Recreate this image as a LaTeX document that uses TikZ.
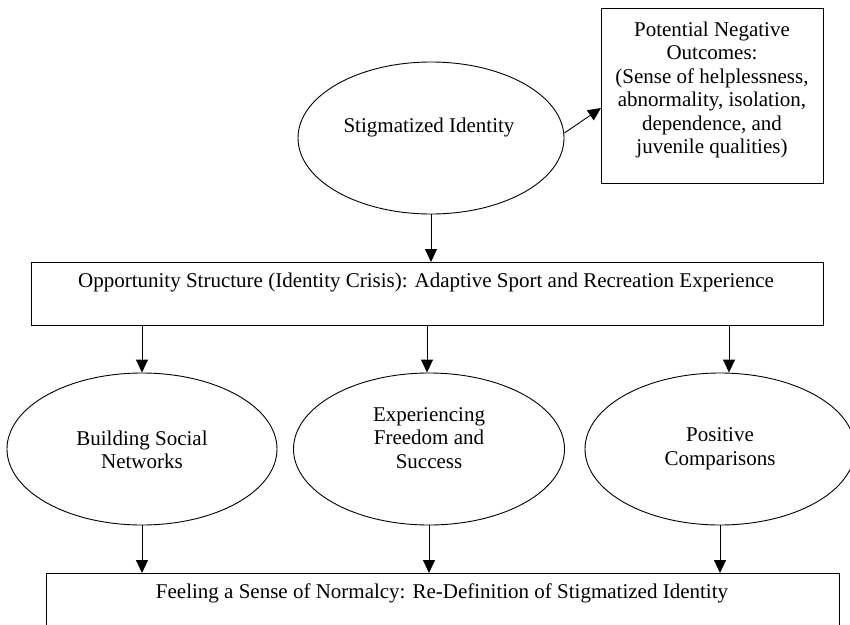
\documentclass[tikz,border=0pt]{standalone}
\usepackage{fontspec}
\setmainfont{Liberation Serif}
\usetikzlibrary{arrows.meta}
\usetikzlibrary{shapes.geometric}
\usetikzlibrary{positioning}
\usetikzlibrary{calc}
\tikzset{oval/.style = {draw, ellipse, inner sep = 0, line width = 0.9pt,
                        minimum width = 270, minimum height = 152}}
\tikzset{box/.style = {draw, rectangle, inner sep = 0, line width = 1pt,
                       anchor = north west}}
\tikzset{arr/.style = {line width = 0.9pt, -{Triangle[width=12pt, length=13pt]}}}
\tikzset{txt/.style = {align = center, inner sep = 0,
                       font = \fontsize{21}{23.5}\selectfont}}

\begin{document}
\begin{tikzpicture}[x=1pt, y=-1pt]
  \useasboundingbox (0, 0) rectangle (850, 624);
  \clip (0, 0) rectangle (850, 624);

  % top row
  \node [oval, minimum width = 266] (stigma) at (431, 138) {};
  \node [txt] at (429, 127) {Stigmatized Identity};
  \node [box, minimum width = 222, minimum height = 175] (outcomes) at (601, 8) {};
  \node [txt] at (712, 90) {Potential Negative\\Outcomes:\\(Sense of helplessness,\\abnormality, isolation,\\dependence, and\\juvenile qualities)};

  % opportunity structure
  \node [box, minimum width = 792, minimum height = 63] (opp) at (31, 262) {};
  \node [txt] at (426, 282) {Opportunity Structure (Identity Crisis): Adaptive Sport and Recreation Experience};

  % three processes
  \node [oval] (social) at (142, 449) {};
  \node [txt] at (142, 450) {Building Social\\Networks};
  \node [oval, minimum width = 271] (freedom) at (429, 449) {};
  \node [txt] at (429, 438) {Experiencing\\Freedom and\\Success};
  \node [oval] (compare) at (720, 449) {};
  \node [txt] at (720, 449) {Positive\\Comparisons};

  % outcome
  \node [box, minimum width = 793, minimum height = 90] (normal) at (46, 573) {};
  \node [txt] at (442, 593) {Feeling a Sense of Normalcy: Re-Definition of Stigmatized Identity};

  \draw [arr] (stigma.south) -- (stigma.south |- opp.north);
  \draw [arr] ($(stigma.east)+(0, -5)$) -- ($(outcomes.west)+(0, 12)$);
  \foreach \n/\dx in {social/0, freedom/-2, compare/9} {
    \draw [arr] ($(opp.south -| \n.north)+(\dx, 0)$) -- ($(\n.north)+(\dx, 0)$);
    \draw [arr] (\n.south) -- (\n.south |- normal.north);
  }
\end{tikzpicture}
\end{document}
